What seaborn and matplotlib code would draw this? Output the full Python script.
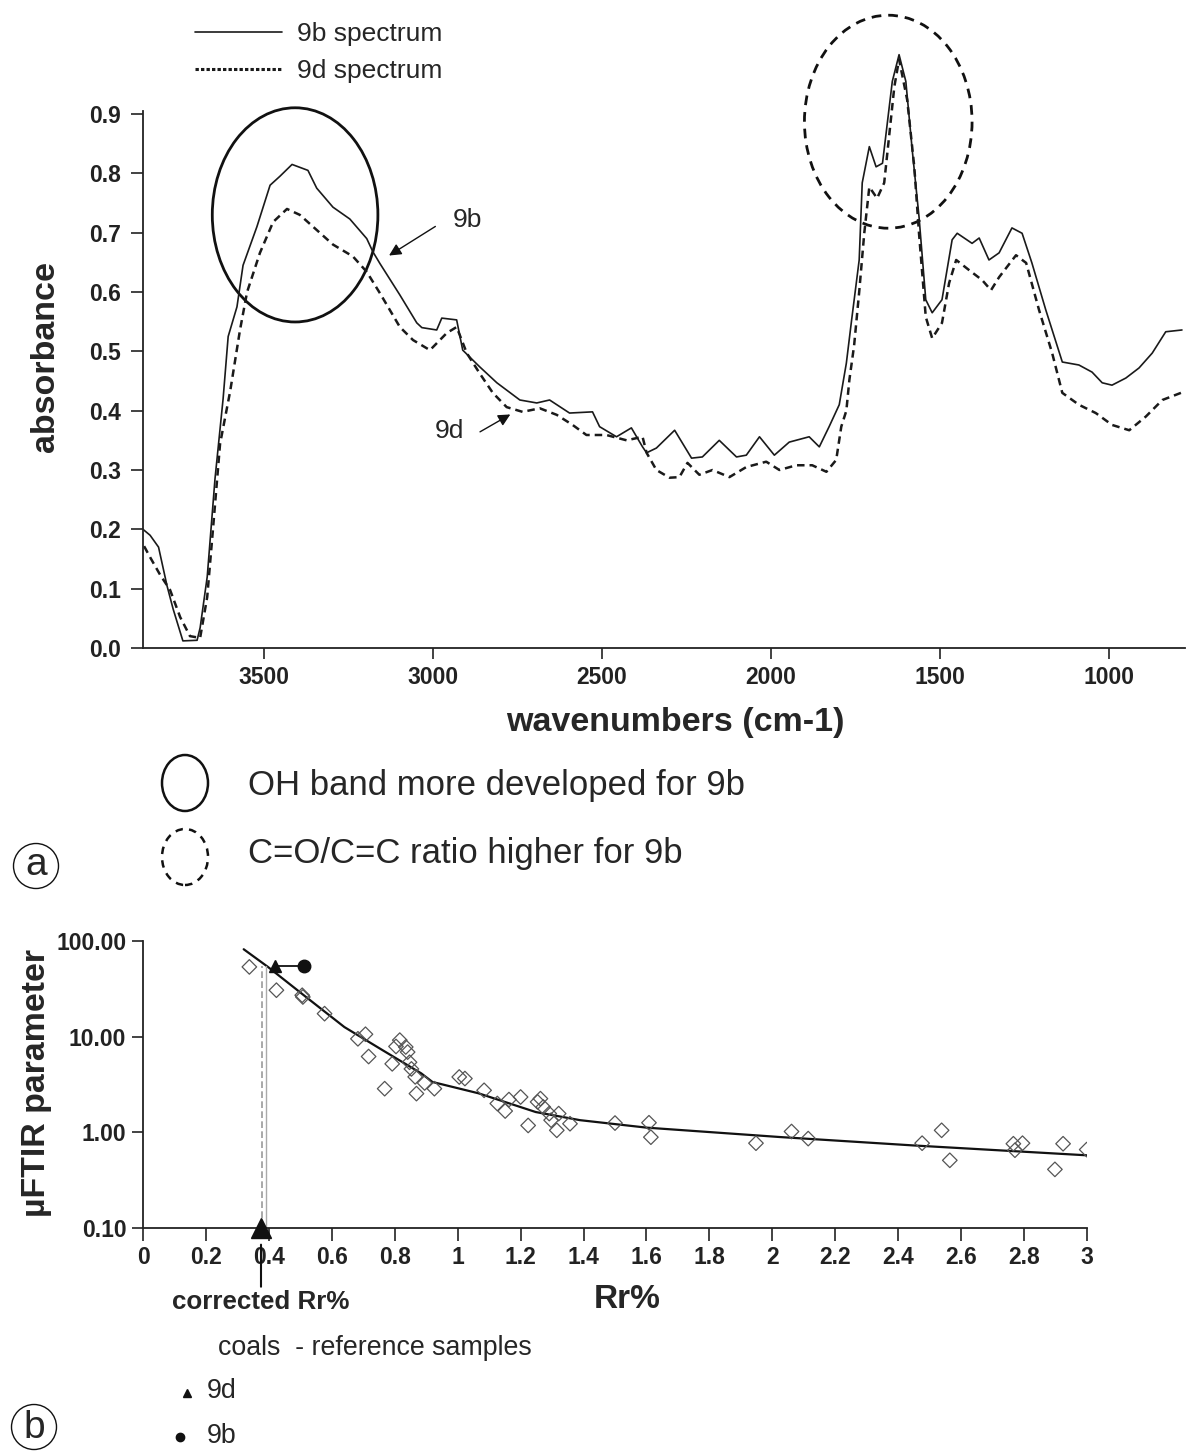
import numpy as np
import matplotlib
matplotlib.use("Agg")
import matplotlib.pyplot as plt
import seaborn as sns
from matplotlib.patches import Ellipse
from matplotlib.lines import Line2D
from matplotlib.ticker import FuncFormatter, NullLocator

# ---- panel (a): FTIR spectra ----
wn_9b = [3858, 3837, 3812, 3787, 3769, 3740, 3698, 3689, 3668, 3645, 3621, 3606, 3580, 3562,
         3521, 3482, 3453, 3417, 3370, 3344, 3296, 3246, 3196, 3178, 3157, 3098, 3048, 3033,
         2989, 2974, 2930, 2912, 2862, 2811, 2743, 2693, 2655, 2596, 2528, 2507, 2457, 2413,
         2380, 2368, 2339, 2285, 2235, 2203, 2153, 2102, 2073, 2034, 1990, 1946, 1887, 1857,
         1828, 1798, 1777, 1762, 1739, 1730, 1709, 1689, 1670, 1641, 1621, 1601, 1582, 1562,
         1542, 1523, 1494, 1464, 1449, 1405, 1384, 1355, 1325, 1287, 1257, 1228, 1187, 1138,
         1089, 1050, 1020, 991, 950, 911, 872, 832, 784]
abs_9b = [0.200, 0.190, 0.170, 0.105, 0.066, 0.012, 0.013, 0.034, 0.120, 0.285, 0.420, 0.525,
          0.575, 0.645, 0.710, 0.780, 0.795, 0.815, 0.805, 0.775, 0.743, 0.723, 0.690, 0.668,
          0.648, 0.595, 0.548, 0.540, 0.536, 0.556, 0.553, 0.502, 0.474, 0.447, 0.418, 0.413,
          0.418, 0.396, 0.398, 0.373, 0.356, 0.371, 0.339, 0.329, 0.337, 0.367, 0.320, 0.322,
          0.350, 0.322, 0.325, 0.356, 0.325, 0.347, 0.356, 0.339, 0.373, 0.410, 0.480, 0.550,
          0.654, 0.784, 0.845, 0.811, 0.817, 0.955, 1.000, 0.955, 0.839, 0.727, 0.587, 0.565,
          0.587, 0.688, 0.699, 0.682, 0.691, 0.654, 0.666, 0.708, 0.699, 0.649, 0.570, 0.482,
          0.477, 0.465, 0.447, 0.443, 0.455, 0.472, 0.497, 0.533, 0.536]

wn_9d = [3858, 3837, 3807, 3778, 3748, 3719, 3689, 3668, 3651, 3630, 3600, 3571, 3550, 3512,
         3473, 3432, 3394, 3343, 3296, 3237, 3196, 3157, 3098, 3059, 3009, 2959, 2930, 2900,
         2862, 2823, 2782, 2735, 2684, 2634, 2587, 2546, 2487, 2427, 2380, 2368, 2339, 2300,
         2271, 2247, 2212, 2173, 2123, 2073, 2014, 1975, 1925, 1878, 1836, 1807, 1792, 1777,
         1768, 1754, 1739, 1724, 1709, 1686, 1665, 1635, 1621, 1597, 1576, 1562, 1542, 1523,
         1494, 1473, 1452, 1414, 1375, 1349, 1325, 1275, 1245, 1207, 1168, 1138, 1089, 1039,
         991, 940, 891, 842, 787]
abs_9d = [0.175, 0.153, 0.123, 0.098, 0.052, 0.020, 0.017, 0.086, 0.200, 0.344, 0.433, 0.536,
          0.600, 0.666, 0.718, 0.740, 0.730, 0.704, 0.680, 0.660, 0.634, 0.598, 0.541, 0.519,
          0.502, 0.531, 0.541, 0.497, 0.463, 0.430, 0.406, 0.398, 0.404, 0.393, 0.376, 0.359,
          0.359, 0.350, 0.356, 0.329, 0.300, 0.287, 0.288, 0.312, 0.292, 0.300, 0.288, 0.305,
          0.314, 0.300, 0.308, 0.308, 0.297, 0.317, 0.373, 0.400, 0.452, 0.510, 0.600, 0.699,
          0.777, 0.758, 0.784, 0.946, 0.992, 0.924, 0.811, 0.699, 0.558, 0.522, 0.548, 0.615,
          0.654, 0.637, 0.620, 0.603, 0.625, 0.662, 0.649, 0.570, 0.497, 0.430, 0.410, 0.396,
          0.376, 0.367, 0.390, 0.418, 0.430]

# ---- panel (b): reference coals and fitted curve ----
ref_rr = [0.338, 0.424, 0.506, 0.508, 0.577, 0.683, 0.707, 0.717, 0.768, 0.792, 0.804, 0.816,
          0.835, 0.841, 0.847, 0.853, 0.865, 0.869, 0.895, 0.926, 1.005, 1.023, 1.084, 1.126,
          1.151, 1.163, 1.200, 1.224, 1.254, 1.263, 1.272, 1.291, 1.297, 1.315, 1.321, 1.357,
          1.500, 1.608, 1.614, 1.948, 2.061, 2.114, 2.476, 2.538, 2.564, 2.766, 2.771, 2.795,
          2.898, 2.924, 2.999]
ref_ftir = [53.6, 30.6, 27.1, 26.0, 17.4, 9.5, 10.6, 6.2, 2.86, 5.2, 7.9, 9.2, 7.8, 6.9, 5.4,
            4.6, 3.8, 2.54, 3.28, 2.86, 3.79, 3.65, 2.75, 2.0, 1.67, 2.2, 2.34, 1.18, 2.08, 2.25,
            1.84, 1.57, 1.34, 1.05, 1.57, 1.23, 1.25, 1.26, 0.89, 0.77, 1.02, 0.86, 0.77, 1.05,
            0.51, 0.76, 0.65, 0.77, 0.41, 0.76, 0.66]

fit_rr = [0.32, 0.397, 0.518, 0.64, 0.762, 0.884, 0.92, 1.066, 1.248, 1.389, 1.60, 2.024, 2.447, 3.0]
fit_ftir = [82, 53.6, 26, 12.6, 7.2, 4.14, 3.36, 2.56, 1.63, 1.34, 1.12, 0.893, 0.73, 0.575]

sample_rr = {"9d": 0.42, "9b": 0.512}
sample_ftir = 55
corrected_rr = 0.375
guide_rr = [0.378, 0.391]

W, H = 1192, 1455


def fx(x):
    return x / W


def fy(y):
    return 1 - y / H


def panel_letter(fig, letter, cx, cy, baseline):
    # circled panel letter, circle and glyph placed separately
    fig.add_artist(Ellipse((fx(cx), fy(cy)), fx(45), 45 / H, fill=False, ec="#111111", lw=1.0,
                           transform=fig.transFigure))
    fig.text(fx(cx), fy(baseline), letter, fontsize=28, ha="center", va="baseline")


sns.set_theme(style="ticks")
plt.rcParams["font.family"] = ["Liberation Sans", "DejaVu Sans"]
plt.rcParams["axes.edgecolor"] = "#222222"
plt.rcParams["axes.linewidth"] = 1.3
plt.rcParams["xtick.color"] = "#222222"
plt.rcParams["ytick.color"] = "#222222"

fig = plt.figure(figsize=(W / 100, H / 100), dpi=100)
fig.patch.set_facecolor("white")

# ---------------- panel (a) ----------------
ax1 = fig.add_axes([fx(143), fy(648), fx(1185) - fx(143), fy(10) - fy(648)])
sns.lineplot(x=wn_9b, y=abs_9b, ax=ax1, color="#1a1a1a", lw=1.2, estimator=None,
             label="9b spectrum")
sns.lineplot(x=wn_9d, y=abs_9d, ax=ax1, color="#1a1a1a", lw=1.8, estimator=None,
             linestyle=(0, (3, 2)), label="9d spectrum")
ax1.set_xlim(3858, 775)
ax1.set_ylim(0, 1.0753)
ax1.set_xticks([3500, 3000, 2500, 2000, 1500, 1000])
ax1.set_yticks(np.arange(0, 0.95, 0.1))
ax1.yaxis.set_major_formatter(FuncFormatter(lambda v, p: f"{v:.1f}"))
ax1.spines["top"].set_visible(False)
ax1.spines["right"].set_visible(False)
ax1.spines["left"].set_bounds(0, 0.905)
ax1.tick_params(axis="x", length=8, width=1.2, pad=5, labelsize=16.5)
ax1.tick_params(axis="y", length=9, width=1.2, pad=7, labelsize=16.5)
for lab in ax1.get_xticklabels() + ax1.get_yticklabels():
    lab.set_fontweight("bold")
ax1.set_xlabel("")
ax1.set_ylabel("")

leg = ax1.legend(loc="upper left", bbox_to_anchor=(fx(195), fy(22)), bbox_transform=fig.transFigure,
                 frameon=False, fontsize=19, handlelength=3.3, handletextpad=0.55,
                 labelspacing=0.5, borderpad=0, borderaxespad=0)
leg.get_lines()[1].set_linestyle((0, (1.1, 0.7)))
leg.get_lines()[1].set_linewidth(2.2)

ax1.add_patch(Ellipse((3408, 0.73), 490, 0.361, fill=False, ec="#111111", lw=2.0))
ax1.add_patch(Ellipse((1653, 0.887), 496, 0.359, fill=False, ec="#111111", lw=2.0,
                      linestyle=(0, (3.5, 2.5))))

ax1.annotate("", xy=(3137, 0.659), xytext=(2986, 0.713),
             arrowprops=dict(arrowstyle="-|>", color="#111111", lw=1.0, mutation_scale=18))
ax1.text(2897, 0.721, "9b", fontsize=19, ha="center", va="center")
ax1.annotate("", xy=(2764, 0.396), xytext=(2868, 0.362),
             arrowprops=dict(arrowstyle="-|>", color="#111111", lw=1.0, mutation_scale=18))
ax1.text(2950, 0.366, "9d", fontsize=19, ha="center", va="center")

fig.text(fx(675), fy(722), "wavenumbers (cm-1)", fontsize=24.5, fontweight="bold",
         ha="center", va="center")
fig.text(fx(46), fy(356), "absorbance", fontsize=24.5, fontweight="bold", rotation=90,
         ha="center", va="center")

# explanation of the ellipses
fig.add_artist(Ellipse((fx(185), fy(783)), fx(46), 56 / H, fill=False, ec="#111111", lw=1.8,
                       transform=fig.transFigure))
fig.add_artist(Ellipse((fx(185), fy(857)), fx(46), 56 / H, fill=False, ec="#111111", lw=1.8,
                       linestyle=(0, (3, 2.5)), transform=fig.transFigure))
fig.text(fx(248), fy(786), "OH band more developed for 9b", fontsize=25, ha="left", va="center")
fig.text(fx(248), fy(854), "C=O/C=C ratio higher for 9b", fontsize=25, ha="left", va="center")
panel_letter(fig, "a", 36, 866, 875)

# ---------------- panel (b) ----------------
ax2 = fig.add_axes([fx(143), fy(1228), fx(1087) - fx(143), fy(941) - fy(1228)])
ax2.set_yscale("log")
sns.lineplot(x=fit_rr, y=fit_ftir, ax=ax2, color="#111111", lw=1.6, estimator=None)
sns.scatterplot(x=ref_rr, y=ref_ftir, ax=ax2, marker="D", s=55, zorder=3)
ax2.collections[-1].set_facecolor("none")
ax2.collections[-1].set_edgecolor("#555555")
ax2.collections[-1].set_linewidth(0.9)

ax2.plot([guide_rr[0]] * 2, [0.1, sample_ftir], color="#999999", lw=1.2, ls=(0, (4, 2)))
ax2.plot([guide_rr[1]] * 2, [0.1, sample_ftir], color="#aaaaaa", lw=1.0)
ax2.plot([sample_rr["9d"], sample_rr["9b"]], [sample_ftir] * 2, color="#111111", lw=1.3)
ax2.plot([sample_rr["9d"]], [sample_ftir], marker="^", ms=8, color="#111111", ls="none")
ax2.plot([sample_rr["9b"]], [sample_ftir], marker="o", ms=9, color="#111111", ls="none")
ax2.plot([corrected_rr], [0.1], marker="^", ms=15, color="#111111", ls="none",
         clip_on=False, zorder=5)

ax2.set_xlim(0, 3)
ax2.set_ylim(0.1, 100)
ax2.set_xticks(np.round(np.arange(0, 3.01, 0.2), 1))
ax2.xaxis.set_major_formatter(FuncFormatter(lambda v, p: f"{round(v, 1):g}"))
ax2.set_yticks([0.1, 1, 10, 100])
ax2.yaxis.set_major_formatter(FuncFormatter(lambda v, p: f"{v:.2f}"))
ax2.yaxis.set_minor_locator(NullLocator())
ax2.spines["top"].set_visible(False)
ax2.spines["right"].set_visible(False)
ax2.tick_params(axis="x", length=9, width=1.2, pad=4, labelsize=16.5)
ax2.tick_params(axis="y", length=8, width=1.2, pad=4, labelsize=16.5)
for lab in ax2.get_xticklabels() + ax2.get_yticklabels():
    lab.set_fontweight("bold")
ax2.set_xlabel("")
ax2.set_ylabel("")

ax2.annotate("corrected Rr%", xy=(corrected_rr, 0.1), xytext=(0, -62), textcoords="offset pixels",
             ha="center", va="top", fontsize=18.7, fontweight="bold",
             arrowprops=dict(arrowstyle="-", color="#111111", lw=1.5, shrinkA=0, shrinkB=12))

fig.text(fx(627), fy(1300), "Rr%", fontsize=24, fontweight="bold", ha="center", va="center")
fig.text(fx(37), fy(1083), "\u00b5FTIR parameter", fontsize=24.4, fontweight="bold", rotation=90,
         ha="center", va="center")

fig.text(fx(218), fy(1348), "coals  - reference samples", fontsize=19.3, ha="left", va="center")
fig.add_artist(Line2D([fx(187)], [fy(1393)], marker="^", ms=6, color="#111111",
                      transform=fig.transFigure))
fig.text(fx(207), fy(1391), "9d", fontsize=19.3, ha="left", va="center")
fig.add_artist(Line2D([fx(180)], [fy(1437)], marker="o", ms=6, color="#111111",
                      transform=fig.transFigure))
fig.text(fx(207), fy(1436), "9b", fontsize=19.3, ha="left", va="center")
panel_letter(fig, "b", 34, 1427, 1438)

fig.savefig("out.png", dpi=100, facecolor="white")
plt.close(fig)
